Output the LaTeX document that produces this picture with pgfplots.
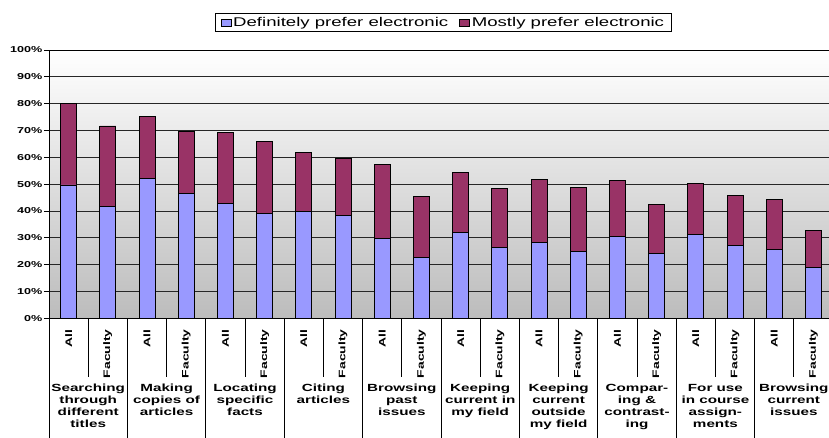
\documentclass[border=0pt]{standalone}
\usepackage{fontspec}
\setmainfont{Liberation Sans}
\usepackage{graphicx}
\usepackage{pgfplots}
\pgfplotsset{compat=1.18}

\definecolor{defblue}{RGB}{153,153,255}
\definecolor{mostred}{RGB}{153,51,102}
\definecolor{bgbot}{RGB}{188,188,188}

% text in the reference is drawn wide along its baseline
\newcommand{\wide}[1]{\scalebox{1.47}[1]{#1}}
\newcommand{\grp}[1]{\wide{\begin{tabular}{@{}c@{}}#1\end{tabular}}}

\pgfplotsset{sqlegend/.style={legend image code/.code={
  \draw[##1, draw=black, line width=0.6pt] (0bp,-3.5bp) rectangle (10bp,3.5bp);}}}

% x: 0 = All, 1 = Faculty, ... ; def = definitely, most = mostly
\pgfplotstableread{
x def most
0 49.7 30.4
1 41.6 30.1
2 52.2 23.1
3 46.5 23.3
4 42.9 26.5
5 39.0 27.0
6 39.7 22.0
7 38.3 21.3
8 29.8 27.7
9 22.6 22.7
10 32.0 22.4
11 26.5 22.0
12 28.2 23.7
13 24.8 24.0
14 30.6 20.8
15 24.2 18.2
16 31.3 18.9
17 27.2 18.6
18 25.8 18.4
19 19.0 13.8
}\prefs

\begin{document}
\begin{tikzpicture}
\useasboundingbox (-49bp,-119.7bp) rectangle (780bp,318.3bp);
\fill[white] (-49bp,-119.7bp) rectangle (780bp,318.3bp);
\clip (-49bp,-119.7bp) rectangle (780bp,318.3bp);
\begin{axis}[
  at={(0,0)}, anchor=south west,
  width=784bp, height=268.3bp, scale only axis,
  ybar stacked, bar width=16bp,
  xmin=-0.5, xmax=19.5, ymin=0, ymax=100,
  clip=false,
  axis background/.style={shade, top color=white, bottom color=bgbot},
  ytick={0,10,...,100},
  yticklabels={\wide{0\%},\wide{10\%},\wide{20\%},\wide{30\%},\wide{40\%},\wide{50\%},
    \wide{60\%},\wide{70\%},\wide{80\%},\wide{90\%},\wide{100\%}},
  xtick={0,...,19},
  xticklabels={\wide{All},\wide{Faculty},\wide{All},\wide{Faculty},\wide{All},\wide{Faculty},
    \wide{All},\wide{Faculty},\wide{All},\wide{Faculty},\wide{All},\wide{Faculty},
    \wide{All},\wide{Faculty},\wide{All},\wide{Faculty},\wide{All},\wide{Faculty},
    \wide{All},\wide{Faculty}},
  ytick pos=left, xtick pos=bottom, tick align=outside,
  major tick length=5bp,
  x tick style={draw=none},
  tick style={black, line width=0.8pt},
  axis line style={black, line width=0.8pt},
  ymajorgrids, major grid style={black!85, line width=0.7pt},
  yticklabel style={font=\fontsize{8.6}{9}\selectfont\bfseries, inner sep=1.5bp},
  xticklabel style={font=\fontsize{9.5}{10}\selectfont\bfseries, yshift=-6bp,
    rotate=90, anchor=east, inner sep=0pt},
  legend columns=2,
  legend style={at={(0.503,1.1025)}, anchor=center, draw=black, line width=0.6pt,
    fill=white, font=\fontsize{12.7}{14}\selectfont, inner xsep=5bp, inner ysep=1.5bp,
    /tikz/every even column/.append style={column sep=9bp}},
]
\addplot[fill=defblue, draw=black, line width=0.8pt, sqlegend] table[x=x, y=def] {\prefs};
\addlegendentry{\wide{Definitely prefer electronic}}
\addplot[fill=mostred, draw=black, line width=0.8pt, sqlegend] table[x=x, y=most] {\prefs};
\addlegendentry{\wide{Mostly prefer electronic}}

\pgfplotsinvokeforeach{0.5,2.5,4.5,6.5,8.5,10.5,12.5,14.5,16.5,18.5}{
  \draw[black, line width=0.8pt] (axis cs:#1,0) -- ++(0bp,-59bp);}
\pgfplotsinvokeforeach{-0.5,1.5,3.5,5.5,7.5,9.5,11.5,13.5,15.5,17.5,19.5}{
  \draw[black, line width=0.8pt] (axis cs:#1,0) -- ++(0bp,-140bp);}

\tikzset{grplab/.style={anchor=north, inner sep=0pt, yshift=-64.7bp,
  font=\fontsize{10.4}{11.9}\selectfont\bfseries}}
\node[grplab] at (axis cs:0.5,0) {\grp{Searching\\through\\different\\titles}};
\node[grplab] at (axis cs:2.5,0) {\grp{Making\\copies of\\articles}};
\node[grplab] at (axis cs:4.5,0) {\grp{Locating\\specific\\facts}};
\node[grplab] at (axis cs:6.5,0) {\grp{Citing\\articles}};
\node[grplab] at (axis cs:8.5,0) {\grp{Browsing\\past\\issues}};
\node[grplab] at (axis cs:10.5,0) {\grp{Keeping\\current in\\my field}};
\node[grplab] at (axis cs:12.5,0) {\grp{Keeping\\current\\outside\\my field}};
\node[grplab] at (axis cs:14.5,0) {\grp{Compar-\\ing \&\\contrast-\\ing}};
\node[grplab] at (axis cs:16.5,0) {\grp{For use\\in course\\assign-\\ments}};
\node[grplab] at (axis cs:18.5,0) {\grp{Browsing\\current\\issues}};
\end{axis}
\end{tikzpicture}
\end{document}
